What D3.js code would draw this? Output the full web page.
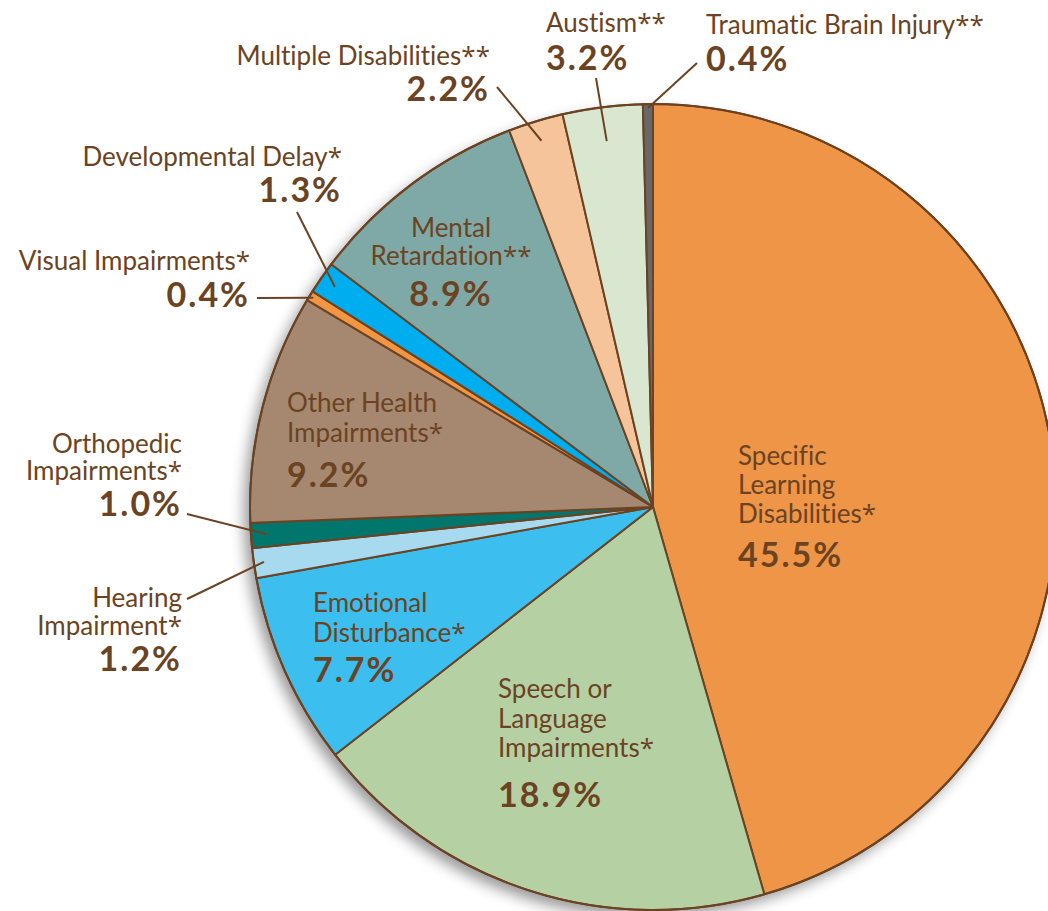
<!DOCTYPE html>
<html>
<head>
<meta charset="utf-8">
<script src="https://cdn.jsdelivr.net/npm/d3@7"></script>
<style>
  html, body { margin: 0; padding: 0; background: #fff; }
  svg text { font-family: Lato, "Open Sans", sans-serif; fill: #6b4322;
             font-variant-ligatures: none; }
  svg tspan.star { font-family: "Open Sans", sans-serif; }
</style>
</head>
<body>
<div id="chart"></div>
<script>
/* data, clockwise from 12 o'clock */
const categories = [
  "Specific Learning Disabilities*",
  "Speech or Language Impairments*",
  "Emotional Disturbance*",
  "Hearing Impairment*",
  "Orthopedic Impairments*",
  "Other Health Impairments*",
  "Visual Impairments*",
  "Developmental Delay*",
  "Mental Retardation**",
  "Multiple Disabilities**",
  "Austism**",
  "Traumatic Brain Injury**"
];
const values = [45.5, 18.9, 7.7, 1.2, 1.0, 9.2, 0.4, 1.3, 8.9, 2.2, 3.2, 0.4];
const labelLines = [
  ["Specific", "Learning", "Disabilities*"],
  ["Speech or", "Language", "Impairments*"],
  ["Emotional", "Disturbance*"],
  ["Hearing", "Impairment*"],
  ["Orthopedic", "Impairments*"],
  ["Other Health", "Impairments*"],
  ["Visual Impairments*"],
  ["Developmental Delay*"],
  ["Mental", "Retardation**"],
  ["Multiple Disabilities**"],
  ["Austism**"],
  ["Traumatic Brain Injury**"]
];
const colors = ["#ee9548", "#b5d1a4", "#3cbeee", "#a7daee", "#00766c", "#a6876f",
                "#f39641", "#00adee", "#7fa9a7", "#f6c49a", "#d9e7d0", "#68686b"];

/* label placement (layout only) */
const layout = [
  { x: 738, y: 465, anchor: "start", pctGap: 44, lh: 29 },
  { x: 498, y: 698, anchor: "start", pctGap: 50, lh: 29.5 },
  { x: 313, y: 612, anchor: "start", pctGap: 40, lh: 30 },
  { x: 182, y: 607, anchor: "end", pctGap: 36, lh: 28, lead: [187, 599], leadR: 0.975 },
  { x: 182, y: 453, anchor: "end", pctGap: 36, lh: 27, lead: [187, 514], leadR: 0.96 },
  { x: 287, y: 412, anchor: "start", pctGap: 45, lh: 30 },
  { x: 250, y: 270, anchor: "end", pctGap: 37, lh: 0, lead: [257, 298], leadR: 0.99 },
  { x: 342, y: 166, anchor: "end", pctGap: 36, lh: 0, lead: [297, 212], leadR: 0.96 },
  { x: 451, y: 237, anchor: "middle", pctGap: 41, lh: 28 },
  { x: 490, y: 65, anchor: "end", pctGap: 36, lh: 0, lead: [497, 87], leadR: 0.95 },
  { x: 546, y: 32, anchor: "start", pctGap: 38, lh: 0, lead: [596, 78], leadR: 0.915 },
  { x: 706, y: 34, anchor: "start", pctGap: 37, lh: 0, lead: [697, 63], leadR: 0.99 }
];

const W = 1048, H = 911;
const cx = 653, cy = 507, R = 403;
const stroke = "#6b4322";

const svg = d3.select("#chart").append("svg")
  .attr("width", W).attr("height", H);

const defs = svg.append("defs");
defs.append("filter").attr("id", "shadow")
  .attr("x", "-20%").attr("y", "-20%").attr("width", "140%").attr("height", "140%")
  .append("feDropShadow")
  .attr("dx", -6).attr("dy", 7).attr("stdDeviation", 7)
  .attr("flood-color", "#000").attr("flood-opacity", 0.4);

const pie = d3.pie().sort(null).value(d => d)(values);
const arc = d3.arc().innerRadius(0).outerRadius(R);

const g = svg.append("g").attr("transform", `translate(${cx},${cy})`);

g.append("circle").attr("r", R).attr("fill", "#fff").attr("filter", "url(#shadow)");

g.selectAll("path.slice").data(pie).join("path")
  .attr("class", "slice")
  .attr("d", arc)
  .attr("fill", (d, i) => colors[i])
  .attr("stroke", stroke)
  .attr("stroke-width", 2)
  .attr("stroke-linejoin", "round");

g.append("circle").attr("r", R).attr("fill", "none")
  .attr("stroke", stroke).attr("stroke-width", 2);

// leader lines for outside labels
pie.forEach((d, i) => {
  const L = layout[i];
  if (!L.lead) return;
  const a = (d.startAngle + d.endAngle) / 2;
  const r = R * L.leadR;
  svg.append("line")
    .attr("x1", L.lead[0]).attr("y1", L.lead[1])
    .attr("x2", cx + r * Math.sin(a)).attr("y2", cy - r * Math.cos(a))
    .attr("stroke", stroke).attr("stroke-width", 2);
});

// labels: one text per label, a tspan per line, asterisks in their own tspan
categories.forEach((c, i) => {
  const L = layout[i];
  const t = svg.append("text")
    .attr("text-anchor", L.anchor)
    .style("font-size", "26px");
  labelLines[i].forEach((line, k) => {
    const m = line.match(/^(.*?)(\**)$/);
    t.append("tspan").attr("x", L.x).attr("y", L.y + k * L.lh).text(m[1]);
    if (m[2]) t.append("tspan").attr("class", "star").text(m[2]);
  });
  const lastY = L.y + (labelLines[i].length - 1) * L.lh;
  svg.append("text")
    .attr("text-anchor", L.anchor)
    .attr("x", L.x).attr("y", lastY + L.pctGap)
    .style("font-size", "34px").style("font-weight", 700)
    .style("letter-spacing", "2px")
    .text(d3.format(".1f")(values[i]) + "%");
});
</script>
</body>
</html>
